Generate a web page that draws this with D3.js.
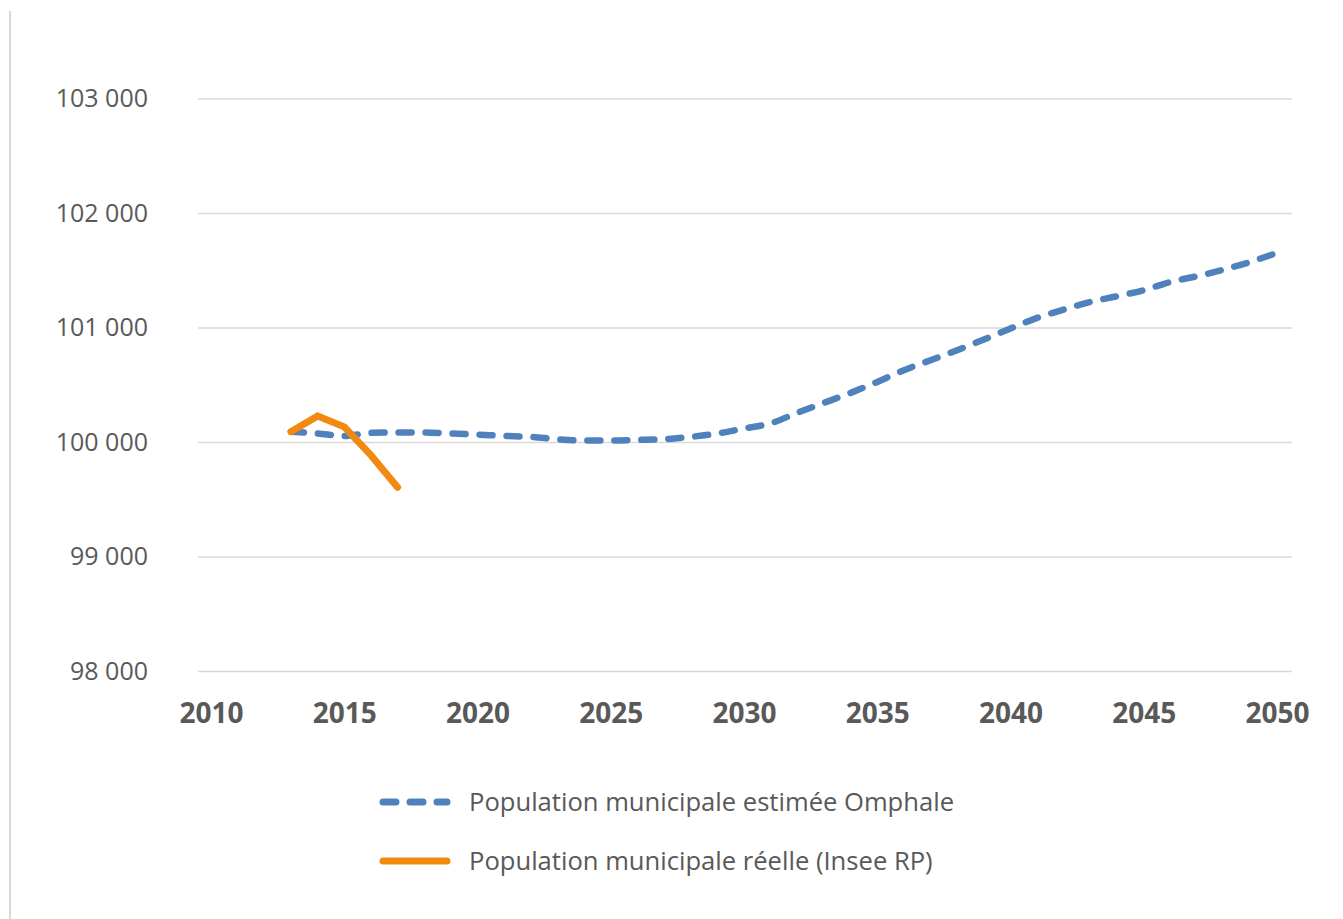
<!DOCTYPE html>
<html>
<head>
<meta charset="utf-8">
<script src="https://cdn.jsdelivr.net/npm/d3@7"></script>
<style>
  body { margin: 0; background: #fff; }
  svg { display: block; }
</style>
</head>
<body>
<script>
/* -----------------------------------------------------
 *  Data
 ----------------------------------------------------- */
const years = d3.range(2013, 2051);
const estimated = [
  100090, 100074, 100053, 100080, 100083, 100083, 100074, 100065, 100053, 100045,
  100024, 100013, 100013, 100018, 100024, 100045, 100074, 100118, 100163, 100255,
  100342, 100429, 100525, 100627, 100714, 100802, 100895, 100991, 101084, 101157,
  101224, 101273, 101326, 101398, 101448, 101506, 101573, 101652
];
const realYears = [2013, 2014, 2015, 2016, 2017];
const real = [100090, 100228, 100132, 99885, 99605];

const xTicks = [2010, 2015, 2020, 2025, 2030, 2035, 2040, 2045, 2050];
const yTicks = [98000, 99000, 100000, 101000, 102000, 103000];
const seriesNames = [
  "Population municipale estimée Omphale",
  "Population municipale réelle (Insee RP)"
];

/* -----------------------------------------------------
 *  Initial SVG setup
 ----------------------------------------------------- */
const width = 1343;
const height = 919;
const gridLeft = 198;
const gridRight = 1292;
const blue = "#4f81bd";
const orange = "#f28a12";
const textColor = "#595959";

const svg = d3
  .select("body")
  .append("svg")
  .attr("width", width)
  .attr("height", height)
  .style("font-family", "Open Sans");

// left border of the picture
svg
  .append("line")
  .attr("x1", 10)
  .attr("x2", 10)
  .attr("y1", 11)
  .attr("y2", height)
  .attr("stroke", "#d9d9d9")
  .attr("stroke-width", 2);

const x = d3.scaleLinear().domain([2010, 2050]).range([211, 1277]);
const y = d3.scaleLinear().domain([98000, 103000]).range([671, 98.5]);

const fmt = d3.formatLocale({ thousands: " ", grouping: [3], decimal: ",", currency: ["", "€"] }).format(",d");

/* -----------------------------------------------------
 *  Axes and gridlines
 ----------------------------------------------------- */
const yAxis = svg
  .append("g")
  .attr("transform", `translate(${gridLeft},0)`)
  .call(
    d3.axisLeft(y)
      .tickValues(yTicks)
      .tickSize(-(gridRight - gridLeft))
      .tickPadding(50)
      .tickFormat(fmt)
  );
yAxis.select(".domain").remove();
yAxis.selectAll(".tick line").attr("stroke", "#d9d9d9").attr("stroke-width", 1.3);
yAxis
  .selectAll(".tick text")
  .attr("fill", textColor)
  .style("font-size", "25px")
  .style("font-family", "Open Sans");

const xAxis = svg
  .append("g")
  .attr("transform", `translate(0,${y(98000)})`)
  .call(d3.axisBottom(x).tickValues(xTicks).tickSize(0).tickPadding(32).tickFormat(d3.format("d")));
xAxis.select(".domain").remove();
xAxis
  .selectAll(".tick text")
  .attr("fill", textColor)
  .style("font-size", "28px")
  .style("font-weight", "bold")
  .style("font-family", "Open Sans");

/* -----------------------------------------------------
 *  Lines
 ----------------------------------------------------- */
const estLine = d3
  .line()
  .x((d, i) => x(years[i]))
  .y((d) => y(d))
  .curve(d3.curveMonotoneX);

svg
  .append("path")
  .datum(estimated)
  .attr("d", estLine)
  .attr("fill", "none")
  .attr("stroke", blue)
  .attr("stroke-width", 6.5)
  .attr("stroke-linecap", "round")
  .attr("stroke-dasharray", "13,14");

const realLine = d3
  .line()
  .x((d, i) => x(realYears[i]))
  .y((d) => y(d));

svg
  .append("path")
  .datum(real)
  .attr("d", realLine)
  .attr("fill", "none")
  .attr("stroke", orange)
  .attr("stroke-width", 7)
  .attr("stroke-linecap", "round")
  .attr("stroke-linejoin", "round");

/* -----------------------------------------------------
 *  Legend
 ----------------------------------------------------- */
const legend = svg
  .selectAll(".legend")
  .data(seriesNames)
  .enter()
  .append("g")
  .attr("class", "legend")
  .attr("transform", (d, i) => `translate(0,${802 + i * 59})`);

legend
  .append("line")
  .attr("x1", 383)
  .attr("x2", 447)
  .attr("y1", 0)
  .attr("y2", 0)
  .attr("stroke", (d, i) => (i === 0 ? blue : orange))
  .attr("stroke-width", 7)
  .attr("stroke-linecap", "round")
  .attr("stroke-dasharray", (d, i) => (i === 0 ? "13,14" : null));

legend
  .append("text")
  .attr("x", 469)
  .attr("y", 0)
  .attr("dy", "0.35em")
  .attr("fill", textColor)
  .style("font-size", "25.6px")
  .text((d) => d);
</script>
</body>
</html>
